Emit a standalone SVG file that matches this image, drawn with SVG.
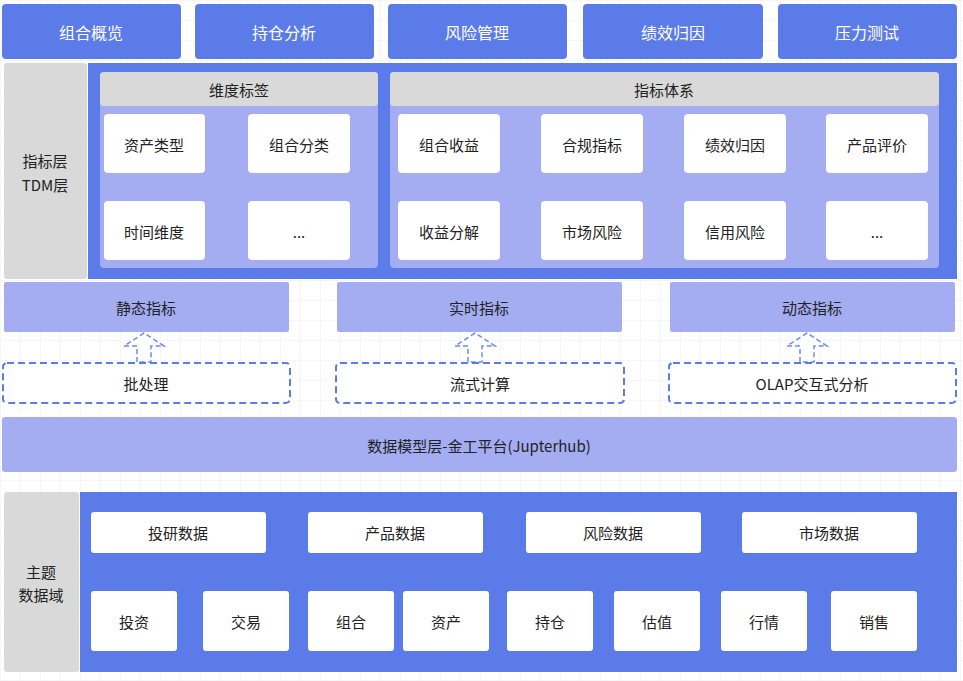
<svg xmlns="http://www.w3.org/2000/svg" width="963" height="681" viewBox="0 0 963 681">
<defs>
<pattern id="grid" width="20" height="20" patternUnits="userSpaceOnUse"><path d="M20 0H0V20" fill="none" stroke="#eeeeee" stroke-width="1"/></pattern>
<style>
text{font-family:"Noto Sans CJK SC","Liberation Sans",sans-serif;font-size:15px;text-anchor:middle;dominant-baseline:central;fill:#222}
.b{fill:#5b7be8}.l{fill:#a4adf2}.g{fill:#d9d9d9}.w{fill:#fff}
.wt{fill:#fff;font-size:16px}
.d{fill:#fff;stroke:#5b7be8;stroke-width:2;stroke-dasharray:7 4}
.ar{fill:#fff;stroke:#6e8cf0;stroke-width:1.5;stroke-dasharray:5 3}
</style>
</defs>
<rect width="963" height="681" fill="#fff"/>
<rect width="963" height="681" fill="url(#grid)"/>
<g id="top">
<rect class="b" x="2" y="4" width="179" height="55" rx="4"/><text class="wt" x="91" y="32">组合概览</text>
<rect class="b" x="195" y="4" width="179" height="55" rx="4"/><text class="wt" x="284" y="32">持仓分析</text>
<rect class="b" x="388" y="4" width="179" height="55" rx="4"/><text class="wt" x="477" y="32">风险管理</text>
<rect class="b" x="583" y="4" width="180" height="55" rx="4"/><text class="wt" x="673" y="32">绩效归因</text>
<rect class="b" x="778" y="4" width="179" height="55" rx="4"/><text class="wt" x="867" y="32">压力测试</text>
</g>
<g id="tdm">
<rect class="g" x="4" y="63" width="83" height="216" rx="3"/>
<text x="45" y="160">指标层</text><text x="45" y="184">TDM层</text>
<rect class="b" x="88" y="63" width="869" height="216"/>
<rect class="l" x="100" y="72" width="278" height="196" rx="4"/>
<rect class="g" x="100" y="72" width="278" height="34" rx="4"/><text x="239" y="89">维度标签</text>
<rect class="l" x="390" y="72" width="549" height="196" rx="4"/>
<rect class="g" x="390" y="72" width="549" height="34" rx="4"/><text x="664" y="89">指标体系</text>
<g id="dims">
<rect class="w" x="104" y="114" width="101" height="59" rx="4"/><text x="154" y="144">资产类型</text>
<rect class="w" x="248" y="114" width="102" height="59" rx="4"/><text x="299" y="144">组合分类</text>
<rect class="w" x="104" y="201" width="101" height="59" rx="4"/><text x="154" y="231">时间维度</text>
<rect class="w" x="248" y="201" width="102" height="59" rx="4"/><text x="299" y="231">...</text>
</g>
<g id="metrics">
<rect class="w" x="398" y="114" width="102" height="59" rx="4"/><text x="449" y="144">组合收益</text>
<rect class="w" x="541" y="114" width="102" height="59" rx="4"/><text x="592" y="144">合规指标</text>
<rect class="w" x="684" y="114" width="102" height="59" rx="4"/><text x="735" y="144">绩效归因</text>
<rect class="w" x="826" y="114" width="102" height="59" rx="4"/><text x="877" y="144">产品评价</text>
<rect class="w" x="398" y="201" width="102" height="59" rx="4"/><text x="449" y="231">收益分解</text>
<rect class="w" x="541" y="201" width="102" height="59" rx="4"/><text x="592" y="231">市场风险</text>
<rect class="w" x="684" y="201" width="102" height="59" rx="4"/><text x="735" y="231">信用风险</text>
<rect class="w" x="826" y="201" width="102" height="59" rx="4"/><text x="877" y="231">...</text>
</g>
</g>
<g id="ind">
<rect class="l" x="4" y="282" width="285" height="50" rx="2"/><text x="146" y="307">静态指标</text>
<rect class="l" x="337" y="282" width="285" height="50" rx="2"/><text x="479" y="307">实时指标</text>
<rect class="l" x="670" y="282" width="285" height="50" rx="2"/><text x="812" y="307">动态指标</text>
</g>
<g id="connectors">
<path class="ar" d="M137 362V346H124L144 333L164 346H151V362Z"/>
<path class="ar" d="M468 362V346H455L475 333L495 346H482V362Z"/>
<path class="ar" d="M800 362V346H787L807 333L827 346H814V362Z"/>
</g>
<g id="proc">
<rect class="d" x="3" y="363" width="287" height="40" rx="4"/><text x="146" y="383">批处理</text>
<rect class="d" x="336" y="363" width="288" height="40" rx="4"/><text x="480" y="383">流式计算</text>
<rect class="d" x="669" y="363" width="287" height="40" rx="4"/><text x="812" y="383">OLAP交互式分析</text>
</g>
<g id="model">
<rect class="l" x="2" y="417" width="955" height="55" rx="3"/><text x="479" y="445">数据模型层-金工平台(Jupterhub)</text>
</g>
<g id="domain">
<rect class="g" x="4" y="492" width="75" height="180" rx="3"/>
<text x="41" y="571">主题</text><text x="41" y="594">数据域</text>
<rect class="b" x="80" y="492" width="877" height="180"/>
<rect class="w" x="91" y="512" width="175" height="41" rx="3"/><text x="178" y="532">投研数据</text>
<rect class="w" x="308" y="512" width="175" height="41" rx="3"/><text x="395" y="532">产品数据</text>
<rect class="w" x="526" y="512" width="175" height="41" rx="3"/><text x="613" y="532">风险数据</text>
<rect class="w" x="742" y="512" width="175" height="41" rx="3"/><text x="829" y="532">市场数据</text>
<rect class="w" x="91" y="591" width="86" height="60" rx="3"/><text x="134" y="621">投资</text>
<rect class="w" x="203" y="591" width="86" height="60" rx="3"/><text x="246" y="621">交易</text>
<rect class="w" x="308" y="591" width="86" height="60" rx="3"/><text x="351" y="621">组合</text>
<rect class="w" x="403" y="591" width="86" height="60" rx="3"/><text x="446" y="621">资产</text>
<rect class="w" x="507" y="591" width="86" height="60" rx="3"/><text x="550" y="621">持仓</text>
<rect class="w" x="614" y="591" width="86" height="60" rx="3"/><text x="657" y="621">估值</text>
<rect class="w" x="721" y="591" width="86" height="60" rx="3"/><text x="764" y="621">行情</text>
<rect class="w" x="831" y="591" width="86" height="60" rx="3"/><text x="874" y="621">销售</text>
</g>
</svg>
